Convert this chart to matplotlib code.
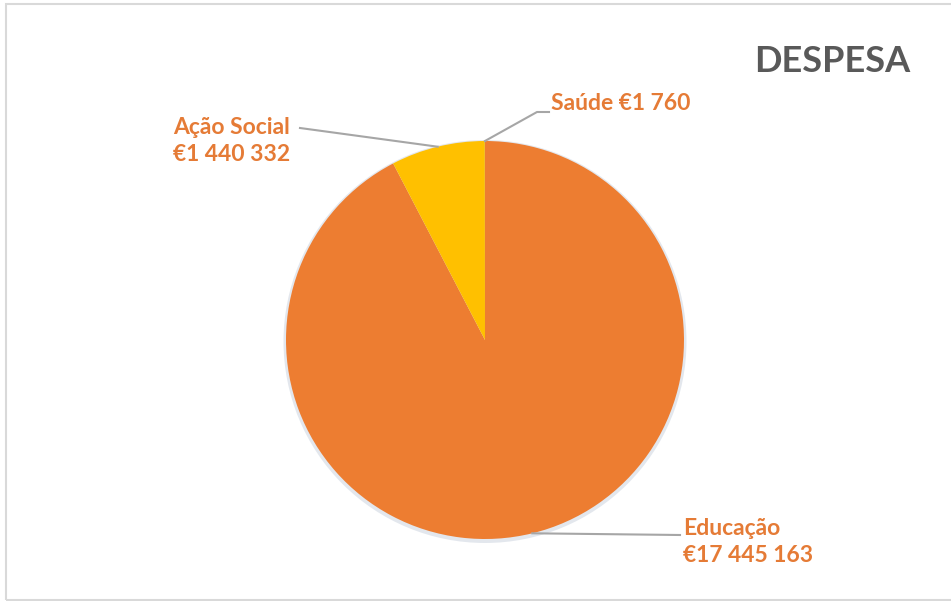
import numpy as np
import matplotlib.pyplot as plt
from matplotlib.patches import Rectangle, Circle

# dados
categorias = ["Educação", "Ação Social", "Saúde"]
valores = [17445163, 1440332, 1760]
rotulos = ["Educação\n€17 445 163", "Ação Social\n€1 440 332", "Saúde €1 760"]
cores = ["#ED7D31", "#FFC000", "#A5A5A5"]

W, H = 951, 601
fig = plt.figure(figsize=(W / 100, H / 100), dpi=100)
ax = fig.add_axes([0, 0, 1, 1])
ax.set_xlim(0, W)
ax.set_ylim(0, H)
ax.set_aspect("equal")
ax.axis("off")

# moldura
ax.add_patch(Rectangle((6, 1), W, H - 5, fill=False, ec="#D9D9D9", lw=1.5))

cx, cy, r = 485, 261, 199
ax.add_patch(Circle((cx, cy - 1.5), r + 2.5, color="#c8d0dc", alpha=0.5, lw=0))
wedges, _ = ax.pie(valores, colors=cores, startangle=90, counterclock=False,
                   center=(cx, cy), radius=r, frame=True,
                   wedgeprops=dict(linewidth=0))
ax.set_xlim(0, W)
ax.set_ylim(0, H)
ax.axis("off")

cor_txt = "#E57B36"
cor_linha = "#A6A6A6"
fonte = "Lato"

def ponto(w):
    a = np.deg2rad((w.theta1 + w.theta2) / 2)
    return cx + r * np.cos(a), cy + r * np.sin(a)

# Educação
x0, y0 = ponto(wedges[0])
ax.plot([x0, 680], [y0, 66], color=cor_linha, lw=1.5)
ax.text(683, 59, rotulos[0], ha="left", va="center", color=cor_txt,
        fontsize=16.5, fontweight="bold", family=fonte, linespacing=1.35)

# Ação Social
x1, y1 = ponto(wedges[1])
ax.plot([x1, 300], [y1, 473], color=cor_linha, lw=1.5)
ax.text(173, 460, rotulos[1], ha="left", va="center", color=cor_txt,
        fontsize=16.5, fontweight="bold", family=fonte, linespacing=1.35)

# Saúde
x2, y2 = ponto(wedges[2])
ax.plot([x2, 537, 549], [y2, 489, 489], color=cor_linha, lw=1.5)
ax.text(551, 498, rotulos[2], ha="left", va="center", color=cor_txt,
        fontsize=16.5, fontweight="bold", family=fonte)

# título
ax.text(910, 539, "DESPESA", ha="right", va="center", color="#595959",
        fontsize=26, fontweight="bold", family=fonte)

fig.savefig("out.png", dpi=100)
